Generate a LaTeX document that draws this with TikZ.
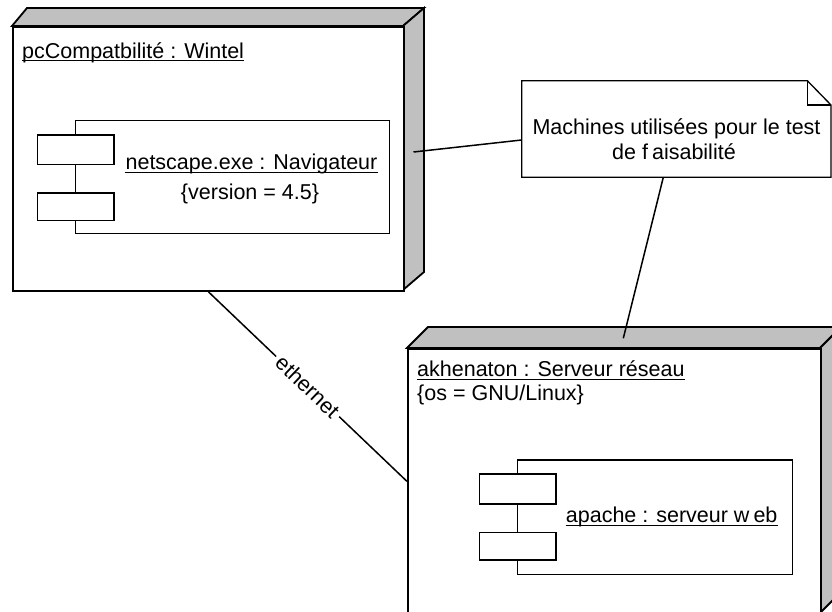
\documentclass[tikz,border=0pt]{standalone}
\usepackage{fontspec}
\setmainfont{Liberation Sans}
\usetikzlibrary{calc}
\definecolor{facegray}{RGB}{192,192,192}
\begin{document}
\begin{tikzpicture}[x=1pt,y=-1pt,
  font=\fontsize{21.5}{25}\selectfont,
  nodeface/.style={draw=black, line width=1.8pt, fill=white, inner sep=0pt, anchor=north west},
  sideface/.style={draw=black, line width=1.8pt, fill=facegray, line join=miter},
  compbox/.style={draw=black, line width=1.3pt, fill=white, inner sep=0pt, anchor=north west},
  lbl/.style={inner sep=0pt, anchor=base west},
  clbl/.style={inner sep=0pt, anchor=base},
  uline/.style={draw=black, line width=1.3pt},
  conn/.style={draw=black, line width=1.5pt}]
\useasboundingbox (0,0) rectangle (832,612);
\clip (0,0) rectangle (832,612);

% ---------- node 1 : pcCompatbilite ----------
\draw[sideface] (12,26) -- (27,8) -- (424,8) -- (403,26) -- cycle;
\draw[sideface] (403,26) -- (424,8) -- (424,272) -- (403,290) -- cycle;
\node[nodeface, minimum width=391pt, minimum height=264pt] (pc) at (12,26) {};
\node[lbl] (pclbl) at (22,58.3) {pcCompatbilité : Wintel\ };
\draw[uline] ($(pclbl.base west)+(0,2)$) -- ($(pclbl.base east)+(0,2)$);

% component netscape
\node[compbox, minimum width=314pt, minimum height=113pt] (ns) at (75,120) {};
\node[compbox, minimum width=76.6pt, minimum height=29.7pt] (nsa) at (36.7,134.3) {};
\node[compbox, minimum width=76.6pt, minimum height=27.7pt] (nsb) at (36.7,192.3) {};
\node[clbl] (nslbl) at (251.5,170) {netscape.exe : Navigateur};
\draw[uline] ($(nslbl.base west)+(0,2.5)$) -- ($(nslbl.base east)+(0,2.5)$);
\node[clbl] (nsver) at (250,200) {\{version = 4.5\}};

% ---------- node 2 : akhenaton ----------
\draw[sideface] (407,348) -- (428,327) -- (841,327) -- (820,348) -- cycle;
\draw[sideface] (820,348) -- (841,327) -- (841,592) -- (820,613) -- cycle;
\node[nodeface, minimum width=413pt, minimum height=265pt] (ak) at (407,348) {};
\node[lbl] (aklbl) at (417,376.7) {akhenaton : Serveur réseau};
\draw[uline] ($(aklbl.base west)+(0,2.5)$) -- ($(aklbl.base east)+(0,2.5)$);
\node[lbl] (akos) at (417,400) {\{os = GNU/Linux\}};

% component apache
\node[compbox, minimum width=275pt, minimum height=114.7pt] (ap) at (516.7,459.3) {};
\node[compbox, minimum width=76.3pt, minimum height=30pt] (apa) at (479,473.3) {};
\node[compbox, minimum width=76.3pt, minimum height=27.6pt] (apb) at (479,531.7) {};
\node[lbl] (aplbl) at (565.7,522.7) {apache : serveur w\kern4pt eb};
\draw[uline] ($(aplbl.base west)+(0,2.5)$) -- ($(aplbl.base east)+(0,2.5)$);

% ---------- note ----------
\draw[draw=black, line width=1.3pt, fill=white, line join=miter]
  (521.7,80.7) -- (807.3,80.7) -- (831,105) -- (831,177.3) -- (521.7,177.3) -- cycle;
\draw[draw=black, line width=1.3pt] (807.3,80.7) -- (807.3,105) -- (831,105);
\node[clbl] (nt1) at (676.5,135) {Machines utilisées pour le test};
\node[clbl] (nt2) at (674,160) {de f\kern4pt aisabilité};

% ---------- connectors ----------
\coordinate (pcside) at (413.5,152);
\coordinate (noteL) at (521.7,140);
\coordinate (noteB) at (663.3,177.3);
\coordinate (aktop) at (623.3,338.3);
\draw[conn] (pcside) -- (noteL);
\draw[conn] (noteB) -- (aktop);
\draw[conn] (pc.south) -- node[sloped, fill=white, inner sep=4pt] (eth) {ethernet} (ak.west);
\end{tikzpicture}
\end{document}
